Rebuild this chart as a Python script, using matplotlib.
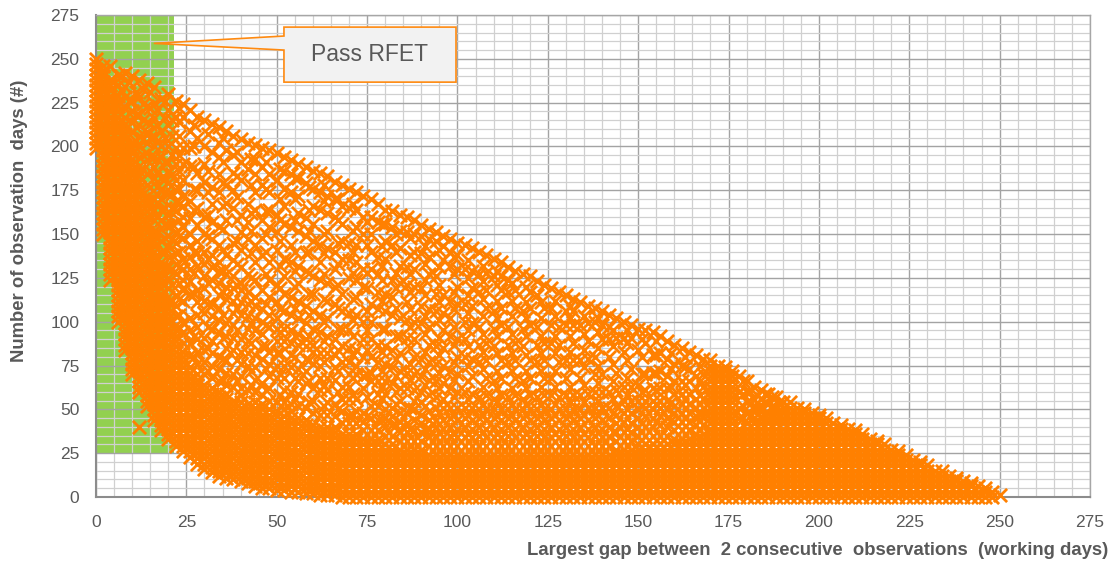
import matplotlib
matplotlib.use("Agg")
import matplotlib.pyplot as plt
from matplotlib.patches import Rectangle, Polygon
from matplotlib.ticker import MultipleLocator

plt.rcParams['font.family'] = ['Liberation Sans', 'DejaVu Sans']

# ---------------- data ----------------
x_label = "Largest gap between  2 consecutive  observations  (working days)"
y_label = "Number of observation  days (#)"
callout_text = "Pass RFET"

gap_columns = [0, 2, 4, 6, 8, 10, 12, 14, 16, 18, 20, 22, 24, 26, 28, 30, 32, 34, 36, 38,
               40, 42, 44, 46, 48, 50, 52, 54, 56, 58, 60, 62, 64, 66, 68, 70, 72, 74, 76, 78,
               80, 82, 84, 86, 88, 90, 92, 94, 96, 98, 100, 102, 104, 106, 108, 110, 112, 114,
               116, 118, 120, 122, 124, 126, 128, 130, 132, 134, 136, 138, 140, 142, 144, 146,
               148, 150, 152, 154, 156, 158, 160, 162, 164, 166, 168, 170, 172, 174, 176, 178,
               180, 182, 184, 186, 188, 190, 192, 194, 196, 198, 200, 202, 204, 206, 208, 210,
               212, 214, 216, 218, 220, 222, 224, 226, 228, 230, 232, 234, 236, 238, 240, 242,
               244, 246, 248, 250]

obs_days = [
    [199,202,205,208,211,214,217,220,223,226,229,232,235,238,241,244,247,250],
    [150,153,156,159,162,165,168,171,174,177,180,183,186,189,192,195,198,201,204,207,210,213,216,219,222,225,228,231,234,237,240,243,246],
    [124,127,130,133,136,139,142,145,148,151,154,157,160,163,166,169,172,175,178,181,184,187,190,193,196,199,202,205,208,211,214,217,220,223,226,229,232,235,238,246],
    [100,103,106,109,112,115,118,121,124,127,130,133,136,139,142,145,148,151,154,157,160,163,166,169,172,175,178,181,184,187,190,193,196,199,202,205,208,211,214,217,220,223,226,229,235,241],
    [84,87,90,93,96,99,102,105,108,111,114,117,120,123,126,129,132,135,138,141,144,147,150,153,156,159,162,165,168,171,174,177,180,183,186,189,192,195,198,201,204,207,210,213,216,222,228,234,242],
    [70,73,76,79,82,85,88,91,94,97,100,103,106,109,112,115,118,121,124,127,130,133,136,139,142,145,148,151,154,157,160,163,166,169,172,175,178,181,184,187,190,193,196,199,202,208,214,220,226,240],
    [40,60,63,66,69,72,75,78,81,84,87,90,93,96,99,102,105,108,111,114,117,120,123,126,129,132,135,138,141,144,147,150,153,156,159,162,165,168,171,174,177,180,183,186,189,194,200,206,212,218,228,238],
    [52,55,58,61,64,67,70,73,76,79,82,85,88,91,94,97,100,103,106,109,112,115,118,121,124,127,130,133,136,139,142,145,148,151,154,157,160,163,166,169,172,178,184,196,202,208,214,223,236],
    [44,47,50,53,56,59,62,65,68,71,74,77,80,83,86,89,92,95,98,101,104,107,110,113,116,119,122,125,128,131,134,137,140,143,146,149,152,158,164,170,182,188,194,200,206,216,225,234],
    [38,41,44,47,50,53,56,59,62,65,68,71,74,77,80,83,86,89,92,95,98,101,104,107,110,113,116,119,122,125,128,131,134,140,146,158,164,170,176,182,194,200,209,227],
    [33,36,39,42,45,48,51,54,57,60,63,66,69,72,75,78,81,84,87,90,93,96,99,102,105,108,111,114,119,125,131,143,149,155,161,173,179,185,191,200,212,221,230],
    [29,32,35,38,41,44,47,50,53,56,59,62,65,68,71,74,77,80,83,86,89,92,95,98,103,109,115,127,133,139,145,151,163,169,175,181,190,199,217,226],
    [26,29,32,35,38,41,44,47,50,53,56,59,62,65,68,71,74,77,80,83,88,94,100,112,118,124,130,136,148,154,160,166,172,181,190,199,217,224],
    [23,26,29,32,35,38,41,44,47,50,53,56,59,62,65,68,71,74,81,88,95,102,116,123,130,137,144,150,159,169,189,199,209,221],
    [19,22,25,28,31,34,37,40,43,46,49,52,55,58,61,64,67,70,76,83,90,97,104,111,118,132,139,146,155,165,175,185,205,217],
    [16,19,22,25,28,31,34,37,40,43,46,49,52,55,58,61,64,70,77,84,91,105,112,119,126,133,140,150,160,180,190,200,215],
    [14,17,20,23,26,29,32,35,38,41,44,47,50,53,56,59,62,68,75,82,89,96,103,110,124,131,138,147,157,167,177,197,213],
    [12,15,18,21,24,27,30,33,36,39,42,45,48,51,54,57,60,66,73,80,94,101,108,115,122,129,134,144,154,174,184,194,202,211],
    [11,14,17,20,23,26,29,32,35,38,41,44,47,50,53,56,59,64,71,78,85,92,99,113,120,127,138,158,168,178,198,209],
    [10,13,16,19,22,25,28,31,34,37,40,43,46,49,52,55,63,70,84,91,98,105,112,119,126,135,145,165,175,185,195,206],
    [9,12,15,18,21,24,27,30,33,36,39,42,45,48,51,54,58,62,69,76,83,90,104,111,118,122,131,141,151,161,181,191,204],
    [8,11,14,17,20,23,26,29,32,35,38,41,44,47,50,53,61,75,82,89,96,103,110,117,127,147,157,167,187,202],
    [6,9,12,15,18,21,24,27,30,33,36,39,42,45,48,51,54,60,67,74,81,95,102,109,114,124,134,144,164,174,184,193,201],
    [5,8,11,14,17,20,23,26,29,32,35,38,41,44,47,50,53,58,65,79,86,93,100,107,118,138,148,158,178,188,199],
    [5,8,11,14,17,20,23,26,29,32,35,38,41,44,47,50,55,62,69,76,83,97,104,114,124,134,154,164,174,184,198],
    [4,7,10,13,16,19,22,25,28,31,34,37,40,43,46,49,54,68,75,82,89,96,102,111,121,141,151,161,181,196],
    [4,7,10,13,16,19,22,25,28,31,34,37,40,43,46,50,54,61,68,75,89,96,106,116,126,136,156,166,176,186,194],
    [3,6,9,12,15,18,21,24,27,30,33,36,39,42,45,49,53,60,74,81,88,95,104,114,134,144,154,174,184,192],
    [3,6,9,12,15,18,21,24,27,30,33,36,39,42,45,52,59,66,73,87,93,102,112,122,132,152,162,172,182,190],
    [2,5,8,11,14,17,20,23,26,29,32,35,38,41,44,51,65,72,79,86,90,99,109,129,139,149,159,179,188],
    [2,5,8,11,14,17,20,23,26,29,32,35,38,41,48,55,62,76,83,87,96,106,116,126,146,156,166,176,186],
    [1,4,7,10,13,16,19,22,25,28,31,34,37,40,47,61,68,75,82,94,104,124,134,144,164,174,185],
    [1,4,7,10,13,16,19,22,25,28,31,34,37,40,47,54,61,68,82,92,102,112,122,142,152,162,172,183],
    [1,4,7,10,13,16,19,22,25,28,31,34,37,40,46,53,67,74,81,90,110,120,130,140,160,170,180],
    [0,3,6,9,12,15,18,21,24,27,30,33,36,42,49,56,63,77,86,96,106,116,136,146,156,166,178],
    [0,3,6,9,12,15,18,21,24,27,30,33,36,42,47,56,63,70,77,85,95,105,125,135,145,165,176],
    [0,3,6,9,12,15,18,21,24,27,30,33,36,42,49,56,70,75,84,104,114,124,134,144,154,164,174],
    [0,3,6,9,12,15,18,21,24,27,30,33,38,43,48,62,69,80,90,100,120,130,150,160,172],
    [0,3,6,9,12,15,18,21,24,27,30,33,38,45,52,66,71,80,90,100,110,130,140,150,160,170],
    [0,3,6,9,12,15,18,21,24,27,30,33,38,44,52,59,66,77,87,107,117,127,137,157,167],
    [0,3,6,9,12,15,18,21,24,27,30,35,40,45,50,59,66,76,86,96,106,116,136,146,156,164],
    [0,3,6,9,12,15,18,21,24,27,30,35,41,46,51,65,74,84,104,114,124,144,154,163],
    [0,3,6,9,12,15,18,21,24,27,32,37,43,48,55,62,72,82,92,102,122,132,142,152,161],
    [0,3,6,9,12,15,18,21,24,27,32,37,42,48,62,71,91,101,111,121,131,151,160],
    [0,3,6,9,12,15,18,21,24,27,32,38,44,50,55,61,70,80,90,100,120,130,140,150,158],
    [0,3,6,9,12,15,18,21,24,27,32,37,42,47,54,60,69,79,99,109,119,139,149,155],
    [0,3,6,9,12,15,18,21,24,29,34,39,44,49,58,67,77,87,97,107,127,137,147,153],
    [0,3,6,9,12,15,18,21,24,29,34,40,44,51,57,66,76,86,106,116,126,146,151],
    [0,3,6,9,12,15,18,21,24,29,34,39,44,51,56,65,75,85,95,105,115,135,143,149],
    [0,3,6,9,12,15,18,21,24,29,35,40,45,51,62,72,92,102,112,132,140,147],
    [0,3,6,9,12,15,18,21,24,29,34,39,44,51,60,70,80,90,110,120,130,138,145],
    [0,3,6,9,12,15,18,21,24,29,34,40,45,51,60,80,90,100,110,130,144],
    [0,3,6,9,12,15,18,21,24,29,34,39,44,51,59,69,79,99,109,119,129,142],
    [0,3,6,9,12,15,18,21,24,29,35,40,45,50,57,77,87,97,117,127,140],
    [0,3,6,9,12,15,18,21,24,29,34,39,44,50,58,68,78,88,108,118,128,138],
    [0,3,6,9,12,15,18,21,24,29,34,40,45,50,56,66,86,96,106,126,136],
    [0,3,6,9,12,15,18,21,24,29,34,39,44,50,58,68,78,98,108,118,126,134],
    [0,3,6,9,12,15,18,21,24,29,35,40,45,50,57,77,87,97,117,124,131],
    [0,3,6,9,12,15,18,21,24,29,34,39,44,50,58,68,78,88,108,118,129],
    [0,3,6,9,12,15,18,21,24,29,34,40,45,50,56,66,86,96,106,127],
    [0,3,6,9,12,15,18,21,24,29,34,39,44,50,58,68,78,98,108,117,126],
    [0,3,6,9,12,15,18,21,24,29,35,40,45,50,57,77,87,97,115,123],
    [0,3,6,9,12,15,18,21,24,29,34,39,44,50,58,68,78,88,108,121],
    [0,3,6,9,12,15,18,21,24,29,34,40,45,50,58,68,88,98,108,119],
    [0,3,6,9,12,15,18,21,24,29,34,39,44,50,57,77,87,97,117],
    [0,3,6,9,12,15,18,21,24,29,35,40,45,50,58,68,78,98,106,115],
    [0,3,6,9,12,15,18,21,24,29,34,39,44,50,58,78,88,98,106,113],
    [0,3,6,9,12,15,18,21,24,29,34,40,45,50,58,68,78,98,111],
    [0,3,6,9,12,15,18,21,24,29,34,39,44,51,59,79,89,99,109],
    [0,3,6,9,12,15,18,21,24,29,35,40,45,51,60,70,80,100,108],
    [0,3,6,9,12,15,18,21,24,29,34,39,44,51,60,70,90,98,106],
    [0,3,6,9,12,15,18,21,24,29,34,40,45,51,60,80,90,97,104],
    [0,3,6,9,12,15,18,21,24,27,32,37,42,47,52,61,71,91,102],
    [0,3,6,9,12,15,18,21,24,27,32,37,43,48,55,63,83,91,100],
    [0,3,6,9,12,15,18,21,24,27,32,37,42,48,55,63,73,91,98],
    [0,3,6,9,12,15,18,21,24,27,30,35,40,45,50,55,64,84,96],
    [0,3,6,9,12,15,18,21,24,27,30,35,40,46,51,55,61,70,88,95],
    [0,3,6,9,12,15,18,21,24,27,30,35,40,45,50,55,62,71,81,94],
    [0,3,6,9,12,15,18,21,24,27,30,35,41,46,51,55,62,72,82,92],
    [0,3,6,9,12,15,18,21,24,27,30,35,40,45,50,55,62,69,79,89],
    [0,3,6,9,12,15,18,21,24,27,30,33,38,43,48,52,59,66,76,87],
    [0,3,6,9,12,15,18,21,24,27,30,33,38,43,48,53,59,66,75,85],
    [0,3,6,9,12,15,18,21,24,27,30,33,38,43,48,53,59,66,73,83],
    [0,3,6,9,12,15,18,21,24,27,30,33,36,41,46,51,56,62,69,81],
    [0,3,6,9,12,15,18,21,24,27,30,33,36,41,46,51,56,63,70,79],
    [0,3,6,9,12,15,18,21,24,27,30,33,36,39,42,45,48,51,54,57,60,63,66,69,72,75,78],
    [0,3,6,9,12,15,18,21,24,27,30,33,36,39,42,45,48,51,54,57,60,63,66,69,72,75],
    [0,3,6,9,12,15,18,21,24,27,30,33,36,39,42,45,48,51,54,57,60,63,66,69,72,74],
    [0,3,6,9,12,15,18,21,24,27,30,33,36,39,42,45,48,51,54,57,60,63,66,69,72],
    [0,3,6,9,12,15,18,21,24,27,30,33,36,39,45,51,60,69],
    [0,3,6,9,12,15,18,21,24,27,30,33,36,39,42,48,54,60,66],
    [0,3,6,9,12,15,18,21,24,27,30,33,36,39,42,45,50,56,63],
    [0,3,6,9,12,15,18,21,24,27,30,33,36,39,42,45,51,56,61],
    [0,3,6,9,12,15,18,21,24,27,30,33,36,39,42,45,48,53,59],
    [0,3,6,9,12,15,18,21,24,27,30,33,36,39,42,45,48,51,57],
    [0,3,6,9,12,15,18,21,24,27,30,33,36,39,42,45,48,51,54],
    [0,3,6,9,12,15,18,21,24,27,30,33,36,39,42,45,48,51,54],
    [0,3,6,9,12,15,18,21,24,27,30,33,36,39,42,45,48,51],
    [0,3,6,9,12,15,18,21,24,27,30,33,36,39,42,45,48,50],
    [0,3,6,9,12,15,18,21,24,27,30,33,36,39,42,45,48],
    [0,3,6,9,12,15,18,21,24,27,30,33,36,39,42,45,47],
    [0,3,6,9,12,15,18,21,24,27,30,33,36,39,42,45],
    [0,3,6,9,12,15,18,21,24,27,30,33,36,39,42],
    [0,3,6,9,12,15,18,21,24,27,30,33,36,39,41],
    [0,3,6,9,12,15,18,21,24,27,30,33,36,39],
    [0,3,6,9,12,15,18,21,24,27,30,33,36,38],
    [0,3,6,9,12,15,18,21,24,27,30,33,36],
    [0,3,6,9,12,15,18,21,24,27,30,33],
    [0,3,6,9,12,15,18,21,24,27,30,32],
    [0,3,6,9,12,15,18,21,24,27,30],
    [0,3,6,9,12,15,18,21,24,27],
    [0,3,6,9,12,15,18,21,24,26],
    [0,3,6,9,12,15,18,21,24],
    [0,3,6,9,12,15,18,21],
    [0,3,6,9,12,15,18,20],
    [0,3,6,9,12,15,18],
    [0,3,6,9,12,15],
    [0,3,6,9,12,15],
    [0,3,6,9,12],
    [0,3,6,9,11],
    [0,3,6,9],
    [0,3,6,8],
    [0,3,6],
    [0,3,5],
    [0,3],
    [1],
]

# in-between columns (odd gaps) seen in the lattice above the dense band
gap_columns_odd = [7, 9, 11, 13, 15, 17, 19, 21, 23,
                   27, 31, 35, 39, 43, 47, 51, 55, 59, 63, 67, 71, 75, 79, 83, 87, 91, 95,
                   99, 103, 107, 111, 115, 119, 123, 127, 131, 135, 139, 143, 147, 151, 155,
                   159, 163, 167, 179, 181, 183, 185, 187, 189]

obs_days_odd = [
    [232,240],
    [219,226,237],
    [203,211,218,231],
    [187,195,204,215,224,233],
    [169,177,186,194,205,213,222,231],
    [151,160,168,177,185,193,203,212,221],
    [131,140,148,156,165,174,182,191,205,216,226],
    [112,121,130,138,147,156,165,173,184,195,206,215],
    [96,104,113,122,131,140,149,158,167,176,186,195,206,214,222],
    [80,92,116,128,140,164,176,188,200,212],
    [72,85,97,110,122,136,149,161,174,186,207],
    [67,79,91,104,117,129,141,153,166,179,191,205],
    [66,78,95,108,121,133,146,158,171,183,197],
    [64,72,88,99,112,125,139,152,162,178,193],
    [61,73,86,98,110,127,140,150,163,176,191],
    [58,70,82,94,107,119,132,146,158,170,187],
    [56,68,80,92,108,120,129,140,158,170,182],
    [54,66,78,92,104,116,128,140,152,164,177],
    [52,64,77,89,100,113,127,139,150,169,178],
    [50,60,72,84,96,108,121,133,145,158,170],
    [47,59,68,81,92,101,113,128,140,152,167],
    [46,57,70,84,95,106,119,128,144,157],
    [44,56,63,72,83,96,112,124,132,143,156],
    [41,53,60,69,79,92,108,119,128,140,150],
    [39,51,67,76,85,97,107,117,127,138,148],
    [38,52,64,73,83,93,103,115,124,133,143],
    [37,48,62,71,81,91,101,111,121,131,141],
    [36,47,57,67,77,87,97,107,117,127,137],
    [36,47,56,66,75,86,95,105,115,125,135],
    [37,47,53,63,73,83,93,103,113,123,132],
    [36,46,54,62,72,82,92,102,112,121,129],
    [37,47,53,62,72,82,93,103,112,122],
    [36,47,53,62,72,81,92,102,111,120],
    [37,47,53,63,72,82,92,102,111],
    [36,47,53,63,72,82,92,103,112],
    [37,47,54,63,73,83,92,102,109],
    [36,47,54,64,74,84,93,103],
    [37,47,55,65,75,85,94,102],
    [37,48,56,66,76,86,95],
    [39,50,58,68,78,88,95],
    [42,52,60,70,80,90],
    [43,53,61,71,81,89],
    [44,54,63,73,82],
    [45,56,64,74,80],
    [47,58,66,75],
    [45,52,59,66],
    [46,53,60],
    [44,51,58],
    [47,54,59],
    [45,52,57],
    [47,54],
]

rfet_pass_max_gap = 21.5
rfet_pass_min_days = 25

assert len(gap_columns) == len(obs_days), (len(gap_columns), len(obs_days))
assert len(gap_columns_odd) == len(obs_days_odd), (len(gap_columns_odd), len(obs_days_odd))

xs, ys = [], []
for gx, col in list(zip(gap_columns, obs_days)) + list(zip(gap_columns_odd, obs_days_odd)):
    xs.extend([gx] * len(col))
    ys.extend(col)

# ---------------- figure ----------------
W, H = 1116, 562
fig = plt.figure(figsize=(W / 100, H / 100), dpi=100)
ax = fig.add_axes([96 / W, 65 / H, 994 / W, 482 / H])

ax.set_xlim(0, 275)
ax.set_ylim(0, 275)
ax.set_axisbelow(True)

# green "pass" zone
ax.add_patch(Rectangle((0, rfet_pass_min_days), rfet_pass_max_gap, 275 - rfet_pass_min_days,
                       facecolor='#92D050', edgecolor='none', zorder=0.2))

for a in (ax.xaxis, ax.yaxis):
    a.set_major_locator(MultipleLocator(25))
    a.set_minor_locator(MultipleLocator(5))
ax.grid(which='minor', color='#D0D0D0', lw=0.9)
ax.grid(which='major', color='#A3A3A3', lw=1.0)
ax.tick_params(which='both', length=0)
ax.tick_params(axis='x', pad=13, labelsize=12.5, labelcolor='#595959')
ax.tick_params(axis='y', pad=12, labelsize=12.5, labelcolor='#595959')

for s in ax.spines.values():
    s.set_color('#A6A6A6')
    s.set_linewidth(1.0)
for s in ('left', 'bottom'):
    ax.spines[s].set_color('#8C8C8C')
    ax.spines[s].set_linewidth(1.5)

ax.scatter(xs, ys, marker='x', s=9.5 ** 2, c='#FF8000', linewidths=2.0,
           zorder=3, clip_on=False)

# axis titles
ax.text(1.018, -0.110, x_label, transform=ax.transAxes, ha='right', va='center',
        fontsize=13.3, fontweight='bold', color='#595959')
ax.text(-0.0765, 0.572, y_label, transform=ax.transAxes, ha='center', va='center',
        rotation=90, fontsize=13.3, fontweight='bold', color='#595959')

# callout
bx0, bx1, by0, by1 = 52.0, 99.6, 236.7, 268.1
tip = (16.0, 258.8)
callout = Polygon([(bx0, by1), (bx1, by1), (bx1, by0), (bx0, by0), (bx0, 255.0),
                   tip, (bx0, 263.0)], closed=True, facecolor='#F2F2F2',
                  edgecolor='#FF8A10', lw=1.2, zorder=5)
ax.add_patch(callout)
ax.text((bx0 + bx1) / 2, (by0 + by1) / 2, callout_text, ha='center', va='center',
        fontsize=16.5, color='#595959', zorder=6)

fig.savefig('out.png', dpi=100)
